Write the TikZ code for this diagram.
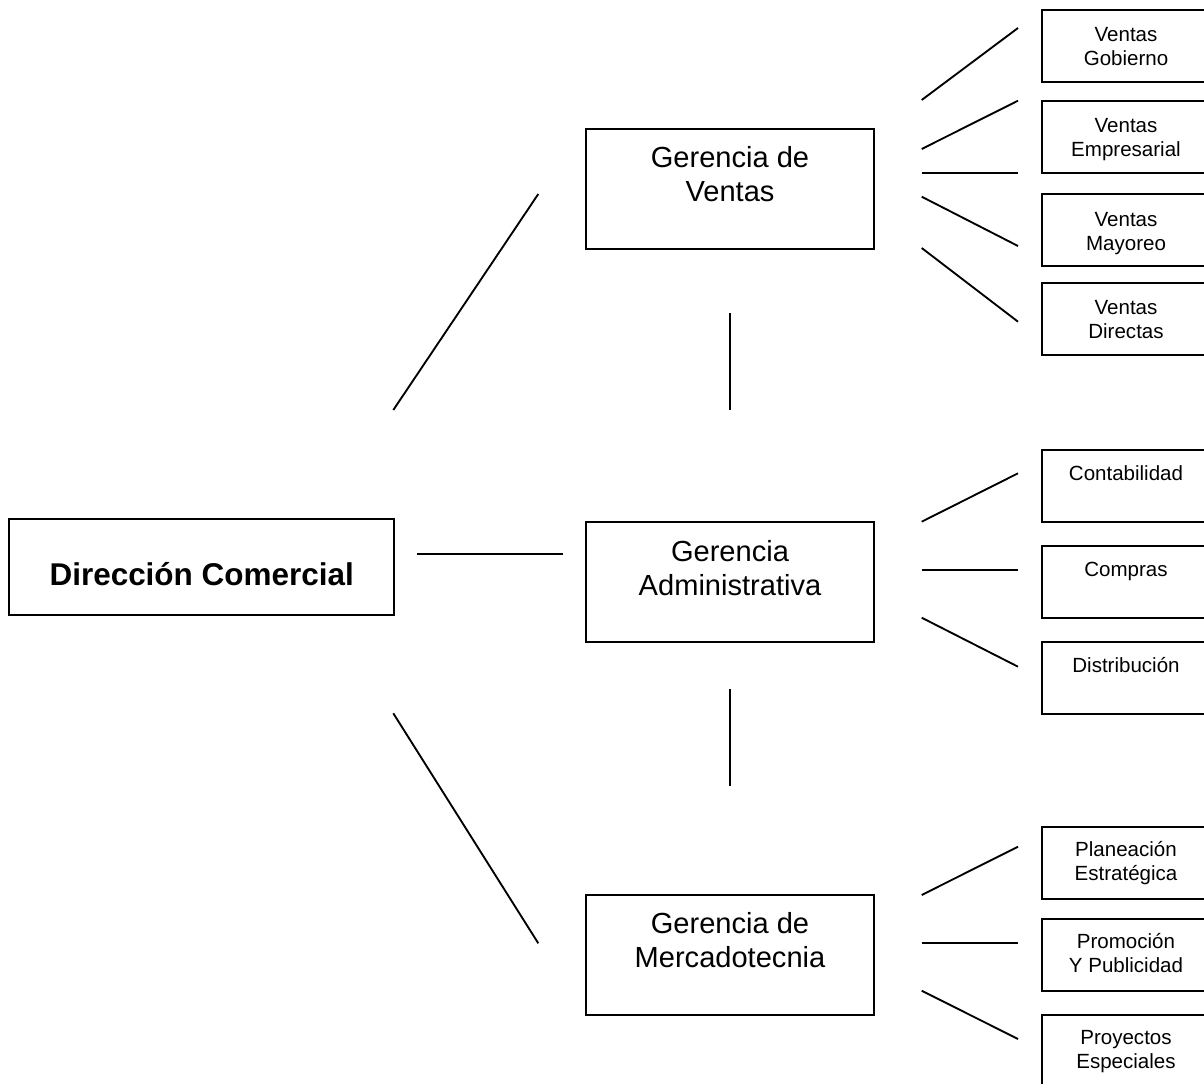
\documentclass[tikz,border=0pt]{standalone}
\usepackage{fontspec}
\setmainfont{Liberation Sans}
\begin{document}
\begin{tikzpicture}[x=0.75pt,y=-0.75pt,
  every node/.style={inner sep=0pt,outer sep=0pt},
  bx/.style={draw,line width=1.4pt,anchor=north west,minimum height=#1},
  big/.style={bx=90pt,minimum width=216.2pt},
  small/.style={bx=54pt,minimum width=127.5pt},
  bigtxt/.style={anchor=north,align=center,font=\fontsize{21.8pt}{25.4pt}\selectfont},
  smalltxt/.style={anchor=north,align=center,font=\fontsize{15.4pt}{18pt}\selectfont},
  ln/.style={line width=1.4pt}]
\useasboundingbox (0,0) rectangle (1204,1084);
\clip (0,0) rectangle (1204,1084);
% main boxes
\node[bx=71.8pt,minimum width=288.5pt] (dir) at (9.3,519.3) {};
\node[anchor=base,font=\fontsize{23.6pt}{28pt}\selectfont\bfseries] (dirt) at (201.7,585.5) {Dirección Comercial};
\node[big] (gv) at (585.7,129.3) {};
\node[big] (ga) at (585.7,522) {};
\node[big] (gm) at (585.7,895) {};
\node[bigtxt] (gvt) at (730,146.8) {Gerencia de\\Ventas};
\node[bigtxt] (gat) at (730,540.2) {Gerencia\\Administrativa};
\node[bigtxt] (gmt) at (730,912.8) {Gerencia de\\Mercadotecnia};
% small boxes
\node[small] (s1) at (1041.7,10) {};
\node[small] (s2) at (1041.7,101) {};
\node[small] (s3) at (1041.7,194) {};
\node[small] (s4) at (1041.7,283) {};
\node[small] (s5) at (1041.7,450) {};
\node[small] (s6) at (1041.7,546) {};
\node[small] (s7) at (1041.7,642) {};
\node[small] (s8) at (1041.7,827) {};
\node[small] (s9) at (1041.7,919) {};
\node[small] (s10) at (1041.7,1015) {};
\node[smalltxt] (t1) at (1126,27.8) {Ventas\\Gobierno};
\node[smalltxt] (t2) at (1126,118.8) {Ventas\\Empresarial};
\node[smalltxt] (t3) at (1126,212.2) {Ventas\\Mayoreo};
\node[smalltxt] (t4) at (1126,300.8) {Ventas\\Directas};
\node[smalltxt] (t5) at (1126,465.5) {Contabilidad};
\node[smalltxt] (t6) at (1126,562) {Compras};
\node[smalltxt] (t7) at (1126,657.5) {Distribución};
\node[smalltxt] (t8) at (1126,841.5) {Planeación\\Estratégica};
\node[smalltxt] (t9) at (1126,933.5) {Promoción\\Y Publicidad};
\node[smalltxt] (t10) at (1126,1030.5) {Proyectos\\Especiales};
% connector end points
\coordinate (a1) at (393.3,410);   \coordinate (b1) at (538.3,194);
\coordinate (a2) at (417,554);     \coordinate (b2) at (563,554);
\coordinate (a3) at (393.3,713.3); \coordinate (b3) at (538.3,943.3);
\coordinate (v1a) at (730,313.5);  \coordinate (v1b) at (730,410.5);
\coordinate (v2a) at (730,689);    \coordinate (v2b) at (730,786);
\coordinate (r1a) at (921.7,100);   \coordinate (r1b) at (1018,28);
\coordinate (r2a) at (921.7,149);   \coordinate (r2b) at (1018,100.7);
\coordinate (r3a) at (921.7,173);   \coordinate (r3b) at (1018,173);
\coordinate (r4a) at (921.7,196.7); \coordinate (r4b) at (1018,246);
\coordinate (r5a) at (921.7,248);   \coordinate (r5b) at (1018,321.7);
\coordinate (r6a) at (921.7,521.7); \coordinate (r6b) at (1018,473.3);
\coordinate (r7a) at (921.7,570);   \coordinate (r7b) at (1018,570);
\coordinate (r8a) at (921.7,617.7); \coordinate (r8b) at (1018,666.7);
\coordinate (r9a) at (921.7,895);   \coordinate (r9b) at (1018,846.7);
\coordinate (r10a) at (921.7,943.3);\coordinate (r10b) at (1018,943.3);
\coordinate (r11a) at (921.7,990.7);\coordinate (r11b) at (1018,1039);
\foreach \p in {1,2,3} \draw[ln] (a\p) -- (b\p);
\draw[ln] (v1a) -- (v1b);
\draw[ln] (v2a) -- (v2b);
\foreach \p in {1,...,11} \draw[ln] (r\p a) -- (r\p b);
\end{tikzpicture}
\end{document}
